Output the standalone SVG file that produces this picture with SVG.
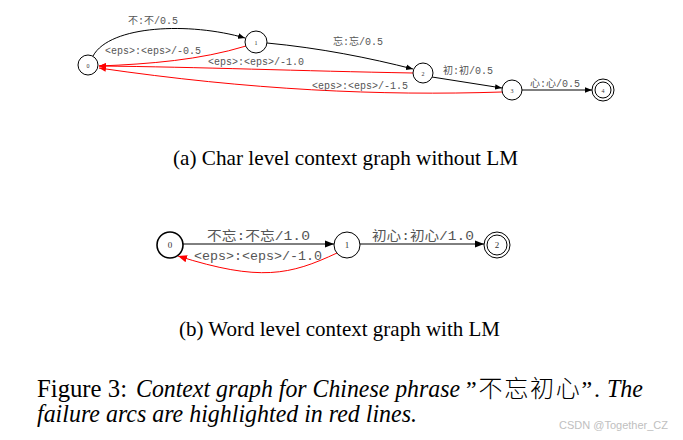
<svg xmlns="http://www.w3.org/2000/svg" width="683" height="440" viewBox="0 0 683 440">
<style>
.n{fill:#fff;stroke:#000;stroke-width:1}
.nb{fill:#fff;stroke:#000;stroke-width:1.6}
.e{fill:none;stroke:#000;stroke-width:1}
.f{fill:none;stroke:#f00;stroke-width:1}
.lb{font-family:"Liberation Mono","Noto Sans CJK SC",monospace;fill:#555}
.s{font-size:10px}
.m{font-size:13px}
.nl{font-family:"Liberation Serif",serif;fill:#333;text-anchor:middle}
.cap{font-family:"Liberation Serif","Noto Sans CJK SC",serif;fill:#000}
</style>
<defs>
<marker id="ab" viewBox="0 0 10 10" refX="10" refY="5" markerWidth="7" markerHeight="7" orient="auto" markerUnits="userSpaceOnUse"><path d="M0,1 L10,5 L0,9 z" fill="#000"/></marker>
<marker id="ar" viewBox="0 0 10 10" refX="10" refY="5" markerWidth="7" markerHeight="7" orient="auto" markerUnits="userSpaceOnUse"><path d="M0,1 L10,5 L0,9 z" fill="#f00"/></marker>
<marker id="abl" viewBox="0 0 10 10" refX="10" refY="5" markerWidth="9" markerHeight="9" orient="auto" markerUnits="userSpaceOnUse"><path d="M0,1 L10,5 L0,9 z" fill="#000"/></marker>
<marker id="arl" viewBox="0 0 10 10" refX="10" refY="5" markerWidth="9" markerHeight="9" orient="auto" markerUnits="userSpaceOnUse"><path d="M0,1 L10,5 L0,9 z" fill="#f00"/></marker>
</defs>
<g id="connectors">
<path class="e" d="M93,56 C110,25 190,22 245,38" marker-end="url(#ab)"/>
<path class="f" d="M246,46 C200,60 150,64 99,66" marker-end="url(#ar)"/>
<path class="e" d="M267,43 C320,48 370,58 413,69" marker-end="url(#ab)"/>
<path class="f" d="M413,73 C300,71 200,67 99,66" marker-end="url(#ar)"/>
<path class="e" d="M432,77 L502,88" marker-end="url(#ab)"/>
<path class="f" d="M502,92 C380,96 250,90 99,68" marker-end="url(#ar)"/>
<path class="e" d="M522,90 L592,90" marker-end="url(#ab)"/>
<path class="e" d="M183,244 L334,244" marker-end="url(#abl)"/>
<path class="f" d="M337,253 C290,275 260,282 178,256" marker-end="url(#arl)"/>
<path class="e" d="M360,244 L484,244" marker-end="url(#abl)"/>
</g>
<g id="labels">
<text class="lb s" x="128" y="24">不:不/0.5</text>
<text class="lb s" x="105" y="54">&lt;eps&gt;:&lt;eps&gt;/-0.5</text>
<text class="lb s" x="333" y="45">忘:忘/0.5</text>
<text class="lb s" x="208" y="65">&lt;eps&gt;:&lt;eps&gt;/-1.0</text>
<text class="lb s" x="443" y="74">初:初/0.5</text>
<text class="lb s" x="312" y="89">&lt;eps&gt;:&lt;eps&gt;/-1.5</text>
<text class="lb s" x="530" y="87">心:心/0.5</text>
<text class="lb m" x="207" y="240" textLength="103" lengthAdjust="spacingAndGlyphs">不忘:不忘/1.0</text>
<text class="lb m" x="194" y="260" textLength="128" lengthAdjust="spacingAndGlyphs">&lt;eps&gt;:&lt;eps&gt;/-1.0</text>
<text class="lb m" x="372" y="240" textLength="102" lengthAdjust="spacingAndGlyphs">初心:初心/1.0</text>
</g>
<g id="a0"><circle class="n" cx="88" cy="65" r="10"/><text class="nl" x="88" y="67.5" font-size="6">0</text></g>
<g id="a1"><circle class="n" cx="256" cy="42" r="11"/><text class="nl" x="256" y="44.5" font-size="6">1</text></g>
<g id="a2"><circle class="n" cx="423" cy="73" r="10"/><text class="nl" x="423" y="75.5" font-size="6">2</text></g>
<g id="a3"><circle class="n" cx="512" cy="90" r="10"/><text class="nl" x="512" y="92.5" font-size="6">3</text></g>
<g id="a4"><circle class="n" cx="603" cy="90" r="11"/><circle class="n" cx="603" cy="90" r="8"/><text class="nl" x="603" y="92.5" font-size="6">4</text></g>
<g id="b0"><circle class="nb" cx="170" cy="245" r="13"/><text class="nl" x="170" y="248" font-size="9">0</text></g>
<g id="b1"><circle class="n" cx="347" cy="245" r="13"/><text class="nl" x="347" y="248" font-size="9">1</text></g>
<g id="b2"><circle class="n" cx="497" cy="245" r="13"/><circle class="n" cx="497" cy="245" r="10"/><text class="nl" x="497" y="248" font-size="9">2</text></g>
<text class="cap" x="173" y="165" font-size="21" textLength="345" lengthAdjust="spacingAndGlyphs">(a)  Char level context graph without LM</text>
<text class="cap" x="179" y="336" font-size="21" textLength="321" lengthAdjust="spacingAndGlyphs">(b)  Word level context graph with LM</text>
<text class="cap" x="37" y="397" font-size="25" textLength="90" lengthAdjust="spacingAndGlyphs">Figure 3:</text>
<text class="cap" x="136" y="397" font-size="25" font-style="italic" textLength="324" lengthAdjust="spacingAndGlyphs">Context graph for Chinese phrase</text>
<text class="cap" x="466" y="397" font-size="24" font-weight="300" textLength="134" lengthAdjust="spacing">”不忘初心”.</text>
<text class="cap" x="607" y="397" font-size="25" font-style="italic" textLength="36" lengthAdjust="spacingAndGlyphs">The</text>
<text class="cap" x="37" y="422" font-size="25" font-style="italic" textLength="380" lengthAdjust="spacingAndGlyphs">failure arcs are highlighted in red lines.</text>
<text x="559" y="429" font-family="'Liberation Sans',sans-serif" font-size="11" fill="#c0c0c0">CSDN @Together_CZ</text>
</svg>
